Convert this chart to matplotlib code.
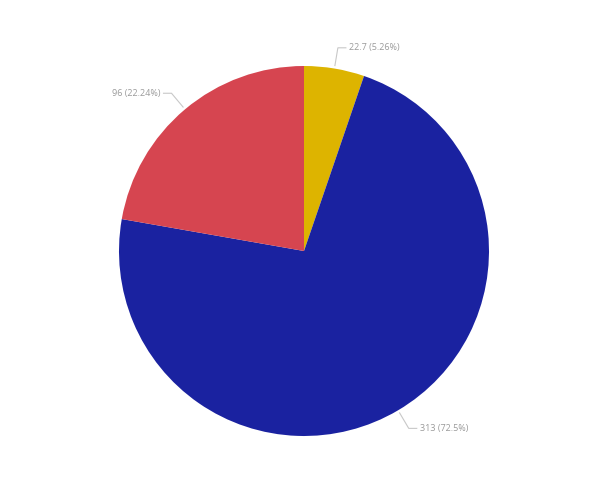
import numpy as np
import matplotlib
matplotlib.use('Agg')
import matplotlib.pyplot as plt

# slice values, clockwise from 12 o'clock
values = [22.7, 313, 96]
colors = ['#DDB400', '#1A22A0', '#D64550']

W, H = 600, 486
cx, cy, r = 304, 486 - 251, 185

fig = plt.figure(figsize=(6, 4.86), dpi=100)
ax = fig.add_axes([0, 0, 1, 1])
ax.set_xlim(0, W)
ax.set_ylim(0, H)
ax.set_aspect('equal')
ax.axis('off')

wedges, _ = ax.pie(values, colors=colors, startangle=90, counterclock=False,
                   radius=r, center=(cx, cy), wedgeprops=dict(linewidth=0))
ax.set_xlim(0, W)
ax.set_ylim(0, H)

total = sum(values)
for w, v in zip(wedges, values):
    ang = np.deg2rad((w.theta1 + w.theta2) / 2)
    ca, sa = np.cos(ang), np.sin(ang)
    p0 = (cx + (r + 3) * ca, cy + (r + 3) * sa)
    p1 = (cx + (r + 21) * ca, cy + (r + 21) * sa)
    side = 1 if ca >= 0 else -1
    p2 = (p1[0] + 8 * side, p1[1])
    ax.plot([p0[0], p1[0], p2[0]], [p0[1], p1[1], p2[1]],
            color='#C8C8C8', lw=0.8, solid_joinstyle='miter')
    pct = v / total * 100
    txt = f"{v:g} ({pct:.2f}%)".replace('.50%', '.5%')
    ax.text(p2[0] + 3 * side, p2[1], txt, fontsize=6.5, color='#9A9A9A',
            family='Open Sans', va='center', ha='left' if side > 0 else 'right')

fig.savefig('out.png', dpi=100)
